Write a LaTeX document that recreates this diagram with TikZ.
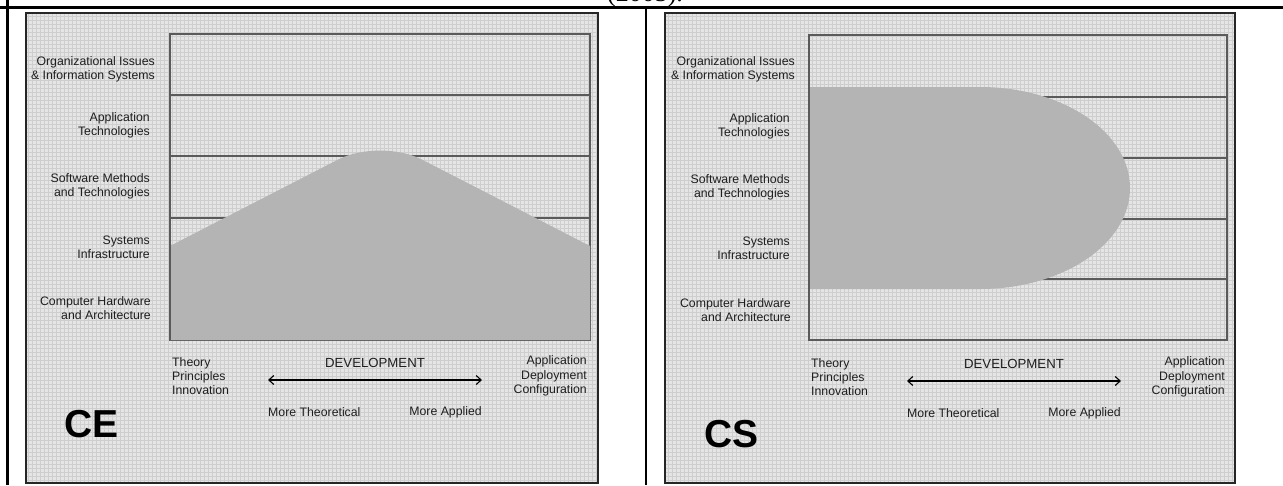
\documentclass[tikz,border=0pt]{standalone}
\usepackage{fontspec}
\setmainfont{Liberation Sans}
\newfontfamily\captionserif{Liberation Serif}
\usetikzlibrary{arrows.meta}

\definecolor{paper}{RGB}{229,229,229}
\definecolor{gridline}{RGB}{206,206,206}
\definecolor{shade}{RGB}{180,180,180}
\definecolor{rule}{RGB}{90,90,90}
\definecolor{ink}{RGB}{30,30,30}

\tikzset{
  tablerule/.style={line width=2.4pt, black},
  panelframe/.style={draw=black!85, line width=2.2pt},
  paperfill/.style={fill=paper},
  gridlines/.style={draw=gridline, line width=0.6pt},
  bandrule/.style={draw=rule, line width=1.3pt},
  hump/.style={fill=shade},
  rowlabel/.style={font=\fontsize{12.3}{14}\selectfont, align=right, inner sep=0pt, text=ink, anchor=east},
  leftnote/.style={font=\fontsize{12.3}{14.2}\selectfont, align=left, inner sep=0pt, text=ink, anchor=west},
  rightnote/.style={font=\fontsize{12.3}{14.2}\selectfont, align=right, inner sep=0pt, text=ink, anchor=east},
  devtitle/.style={font=\fontsize{13.2}{15}\selectfont, inner sep=0pt, text=ink},
  devarrow/.style={{Straight Barb[length=5pt,width=9pt]}-{Straight Barb[length=5pt,width=9pt]}, line width=1.1pt, black},
  bigtag/.style={font=\fontsize{39}{41}\selectfont\bfseries, inner sep=0pt, text=black, anchor=west},
}

\begin{document}
\begin{tikzpicture}[x=1pt,y=-1pt]
\useasboundingbox (0,0) rectangle (1283,485);

% caption fragment above the table
\node[font=\captionserif\fontsize{26}{28}\selectfont, anchor=base, inner sep=0pt] (year) at (645,1.5) {(2005).};

% table rules
\draw[tablerule] (0,7.5) -- (1283,7.5);
\draw[tablerule] (7.5,0) -- (7.5,485);
\draw[tablerule] (646,7.5) -- (646,485);

% ---------------- CE panel ----------------
\fill[paperfill] (26,13) rectangle (598,483);
\draw[gridlines] (26,13) grid[step=4pt] (598,483);
\draw[bandrule] (170,34) rectangle (590,340);
\foreach \yy in {95,156,218,279} \draw[bandrule] (170,\yy) -- (590,\yy);
\fill[hump] (170,340) -- (170,246) [rounded corners=47pt] -- (380,138) [sharp corners] -- (590,246) -- (590,340) -- cycle;
\draw[bandrule] (170,34) -- (170,340);
\draw[panelframe] (26,13) rectangle (598,483);

\node[rowlabel] (ce-org) at (155,69) {Organizational Issues\\\& Information Systems};
\node[rowlabel] (ce-app) at (150,125) {Application\\Technologies};
\node[rowlabel] (ce-sw)  at (150,186) {Software Methods\\and Technologies};
\node[rowlabel] (ce-sys) at (150,247) {Systems\\Infrastructure};
\node[rowlabel] (ce-hw)  at (151,308) {Computer Hardware\\and Architecture};

\node[leftnote]  (ce-theory) at (172,376) {Theory\\Principles\\Innovation};
\node[rightnote] (ce-apply)  at (587,376) {Application\\Deployment\\Configuration};
\node[devtitle]  (ce-dev)    at (375,363) {DEVELOPMENT};
\coordinate (ce-al) at (268,380);
\coordinate (ce-ar) at (482,380);
\draw[devarrow] (ce-al) -- (ce-ar);
\node[leftnote]  (ce-theo) at (268,412) {More Theoretical};
\node[rightnote] (ce-more) at (482,412) {More Applied};
\node[bigtag] (ce-tag) at (64,424) {CE};

% ---------------- CS panel ----------------
\fill[paperfill] (665,13) rectangle (1235,483);
\draw[gridlines] (665,13) grid[step=4pt] (1235,483);
\draw[bandrule] (809,35) rectangle (1227,340);
\foreach \yy in {97,158,219,279} \draw[bandrule] (809,\yy) -- (1227,\yy);
\fill[hump] (809,87) -- (980,87) arc[start angle=-90, end angle=90, x radius=150, y radius=101] -- (809,289) -- cycle;
\draw[bandrule] (809,35) -- (809,340);
\draw[panelframe] (665,13) rectangle (1235,483);

\node[rowlabel] (cs-org) at (795,69) {Organizational Issues\\\& Information Systems};
\node[rowlabel] (cs-app) at (790,126) {Application\\Technologies};
\node[rowlabel] (cs-sw)  at (790,187) {Software Methods\\and Technologies};
\node[rowlabel] (cs-sys) at (790,248) {Systems\\Infrastructure};
\node[rowlabel] (cs-hw)  at (791,310) {Computer Hardware\\and Architecture};

\node[leftnote]  (cs-theory) at (811,377) {Theory\\Principles\\Innovation};
\node[rightnote] (cs-apply)  at (1225,377) {Application\\Deployment\\Configuration};
\node[devtitle]  (cs-dev)    at (1014,364) {DEVELOPMENT};
\coordinate (cs-al) at (907,381);
\coordinate (cs-ar) at (1121,381);
\draw[devarrow] (cs-al) -- (cs-ar);
\node[leftnote]  (cs-theo) at (907,413) {More Theoretical};
\node[rightnote] (cs-more) at (1121,413) {More Applied};
\node[bigtag] (cs-tag) at (704,434) {CS};
\end{tikzpicture}
\end{document}
